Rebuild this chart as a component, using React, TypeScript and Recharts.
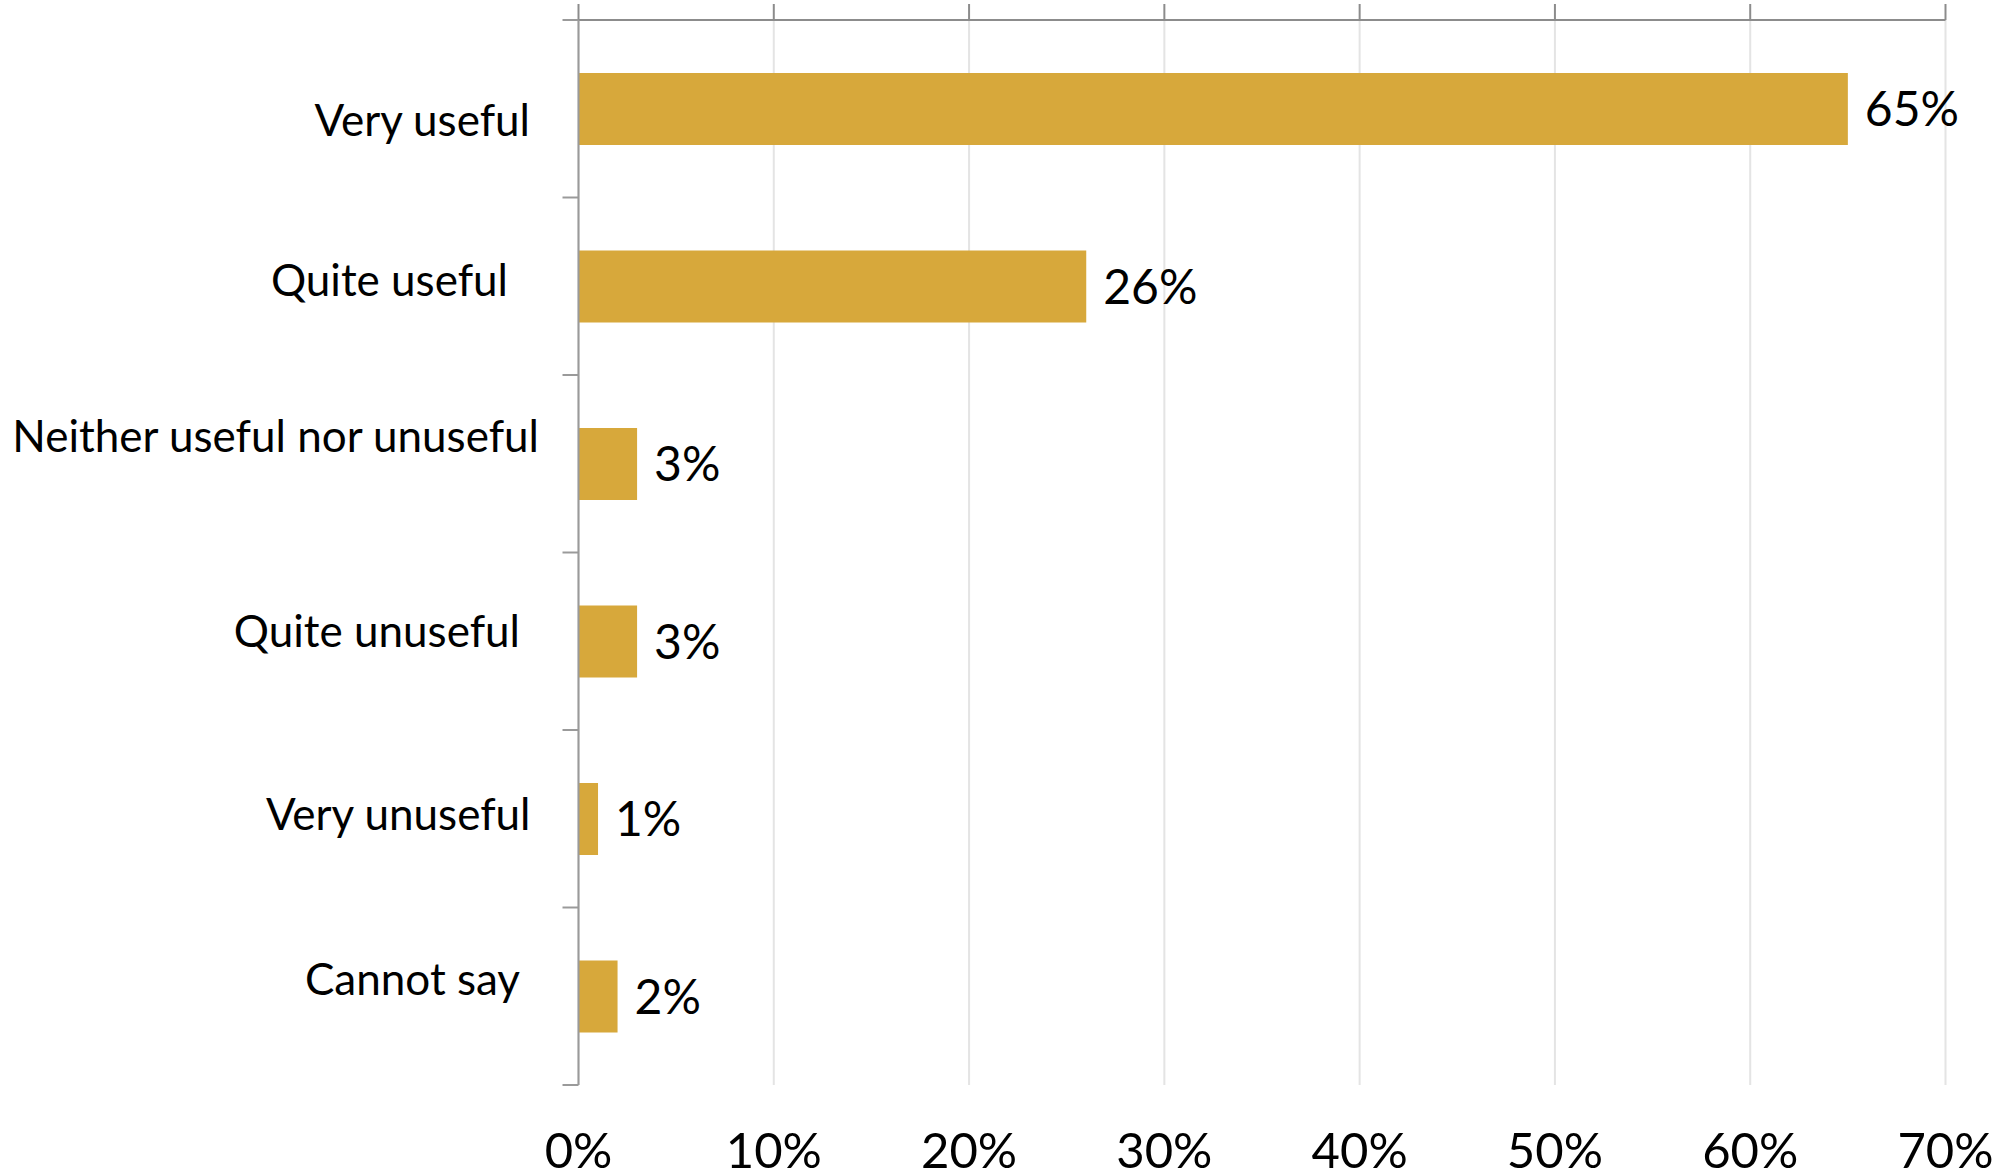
import React from 'react';
import { BarChart, Bar, XAxis, YAxis, CartesianGrid, LabelList } from 'recharts';

const categories = [
  'Very useful',
  'Quite useful',
  'Neither useful nor unuseful',
  'Quite unuseful',
  'Very unuseful',
  'Cannot say',
];
const values = [65, 26, 3, 3, 1, 2];
const xTicks = [0, 10, 20, 30, 40, 50, 60, 70];

const data = categories.map((c, i) => ({ category: c, value: values[i] }));

// layout
const CHART_W = 1998;
const CHART_H = 1175;
const TOP_AXIS_H = 20;
const BOTTOM_AXIS_H = 90;
const PLOT_H = CHART_H - TOP_AXIS_H - BOTTOM_AXIS_H;

// label styling offsets (relative to tick position)
const LABEL_DX = [-48.5, -70.5, -39.5, -58.5, -48, -58.5];
const LABEL_DY = [27.25, 9.75, -11.5, 5.4, 11.25, -1.25];

const FONT = "Lato, 'Open Sans', sans-serif";
const BAR_COLOR = '#D7A83B';
const AXIS_COLOR = '#8c8c8c';
const LEFT_AXIS_COLOR = '#9a9a9a';

const CategoryTick = (props: any) => {
  const { x, y, payload } = props;
  const i = categories.indexOf(payload.value);
  const half = payload && payload.offset > 0 ? payload.offset : PLOT_H / categories.length / 2;
  return (
    <g>
      <line x1={x - 16} x2={x} y1={y - half} y2={y - half} stroke={LEFT_AXIS_COLOR} strokeWidth={2} />
      {i === categories.length - 1 && (
        <line x1={x - 16} x2={x} y1={y + half} y2={y + half} stroke={LEFT_AXIS_COLOR} strokeWidth={2} />
      )}
      <text
        x={x + LABEL_DX[i]}
        y={y + LABEL_DY[i]}
        textAnchor="end"
        fontFamily={FONT}
        fontSize={44}
        fill="#000"
      >
        {payload.value}
      </text>
    </g>
  );
};

const BottomTick = (props: any) => {
  const { x, y, payload } = props;
  return (
    <text x={x} y={y + 83} textAnchor="middle" fontFamily={FONT} fontSize={49} fill="#000">
      {`${payload.value}%`}
    </text>
  );
};

const EmptyTick = () => <g />;

export default function App() {
  return (
    <div style={{ position: 'absolute', left: 0, top: 0, background: '#fff' }}>
      <BarChart
        width={CHART_W}
        height={CHART_H}
        data={data}
        layout="vertical"
        margin={{ top: 0, right: 52.5, bottom: 0, left: 577.5 }}
      >
        <CartesianGrid horizontal={false} stroke="#e4e4e4" strokeWidth={2} />
        <XAxis
          type="number"
          orientation="bottom"
          domain={[0, 70]}
          ticks={xTicks}
          height={BOTTOM_AXIS_H}
          axisLine={false}
          tickLine={false}
          tickSize={0}
          tickMargin={0}
          tick={<BottomTick />}
          interval={0}
        />
        <XAxis
          xAxisId="top"
          type="number"
          orientation="top"
          domain={[0, 70]}
          allowDataOverflow
          ticks={xTicks}
          height={TOP_AXIS_H}
          tick={<EmptyTick />}
          tickSize={16}
          axisLine={{ stroke: AXIS_COLOR, strokeWidth: 2 }}
          tickLine={{ stroke: AXIS_COLOR, strokeWidth: 2 }}
          interval={0}
        />
        <YAxis
          type="category"
          dataKey="category"
          width={1}
          axisLine={{ stroke: LEFT_AXIS_COLOR, strokeWidth: 2 }}
          tickLine={false}
          tickSize={0}
          tickMargin={0}
          tick={<CategoryTick />}
          interval={0}
        />
        <Bar dataKey="value" fill={BAR_COLOR} barSize={72} isAnimationActive={false}>
          <LabelList
            dataKey="value"
            position="right"
            offset={17}
            formatter={(v: any) => `${v}%`}
            fill="#000"
            fontSize={48}
            fontFamily={FONT}
          />
        </Bar>
      </BarChart>
    </div>
  );
}
